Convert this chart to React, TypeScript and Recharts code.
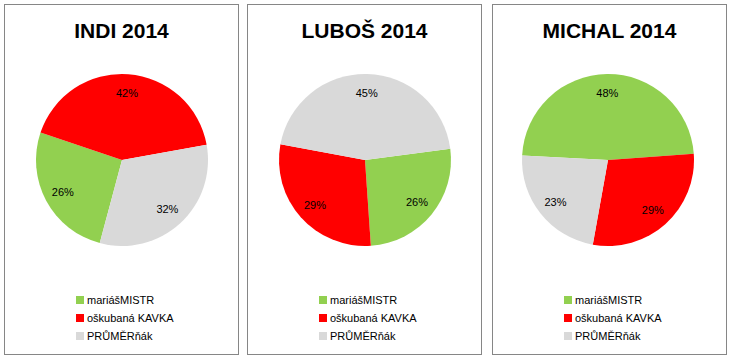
import React from 'react';
import { PieChart, Pie, Cell, Legend } from 'recharts';

const categories = ['mariášMISTR', 'oškubaná KAVKA', 'PRŮMĚRňák'];
const colors = ['#92D050', '#FF0000', '#D9D9D9'];
const titles = ['INDI 2014', 'LUBOŠ 2014', 'MICHAL 2014'];
const indiValues = [26, 42, 32];
const lubosValues = [26, 29, 45];
const michalValues = [48, 29, 23];
const startAngles = [255, 7.5, 177];

const FONT = '"Liberation Sans", Arial, sans-serif';
const RAD = Math.PI / 180;

const renderLabel = (props: any) => {
  const { cx, cy, midAngle, outerRadius, percent } = props;
  const r = outerRadius * 0.78;
  const x = cx + r * Math.cos(-midAngle * RAD);
  const y = cy + r * Math.sin(-midAngle * RAD);
  return (
    <text x={x} y={y} fill="#000" textAnchor="middle" dominantBaseline="central" fontSize={11} fontFamily={FONT}>
      {`${Math.round(percent * 100)}%`}
    </text>
  );
};

const renderLegend = (props: any) => {
  const payload = [...(props.payload || [])].sort(
    (a: any, b: any) => categories.indexOf(a.value) - categories.indexOf(b.value)
  );
  return (
    <div style={{ fontFamily: FONT, fontSize: 11, color: '#000' }}>
      {payload.map((e: any, i: number) => (
        <div key={i} style={{ display: 'flex', alignItems: 'center', height: 18 }}>
          <span style={{ display: 'inline-block', width: 8, height: 8, background: e.color, marginRight: 3 }} />
          <span>{e.value}</span>
        </div>
      ))}
    </div>
  );
};

const boxes = [
  { left: 4, values: indiValues, cx: 117 },
  { left: 247, values: lubosValues, cx: 117 },
  { left: 492, values: michalValues, cx: 115 },
];

function ChartBox({ idx }: { idx: number }) {
  const b = boxes[idx];
  const data = categories.map((name, i) => ({ name, value: b.values[i] }));
  const start = startAngles[idx];
  return (
    <div
      style={{
        position: 'absolute',
        left: b.left,
        top: 4,
        width: 235,
        height: 351,
        boxSizing: 'border-box',
        border: '1px solid #868686',
        background: '#fff',
      }}
    >
      <div
        style={{
          position: 'absolute',
          left: 0,
          top: 14,
          width: 233,
          textAlign: 'center',
          fontFamily: FONT,
          fontWeight: 'bold',
          fontSize: 21,
          lineHeight: '24px',
          color: '#000',
        }}
      >
        {titles[idx]}
      </div>
      <div style={{ position: 'absolute', left: 0, top: 0 }}>
        <PieChart width={233} height={349} margin={{ top: 0, right: 0, bottom: 0, left: 0 }}>
          <Pie
            data={data}
            dataKey="value"
            nameKey="name"
            cx={b.cx}
            cy={155}
            outerRadius={86}
            startAngle={start}
            endAngle={start - 360}
            stroke="none"
            label={renderLabel}
            labelLine={false}
            isAnimationActive={false}
          >
            {data.map((d, i) => (
              <Cell key={d.name} fill={colors[i]} />
            ))}
          </Pie>
          <Legend
            layout="vertical"
            verticalAlign="bottom"
            align="center"
            content={renderLegend}
            wrapperStyle={{ left: 71, top: 286, bottom: 'auto', width: 150 }}
          />
        </PieChart>
      </div>
    </div>
  );
}

export default function App() {
  return (
    <div style={{ position: 'absolute', left: 0, top: 0, width: 730, height: 358, background: '#fff' }}>
      {[0, 1, 2].map((i) => (
        <ChartBox key={i} idx={i} />
      ))}
    </div>
  );
}
